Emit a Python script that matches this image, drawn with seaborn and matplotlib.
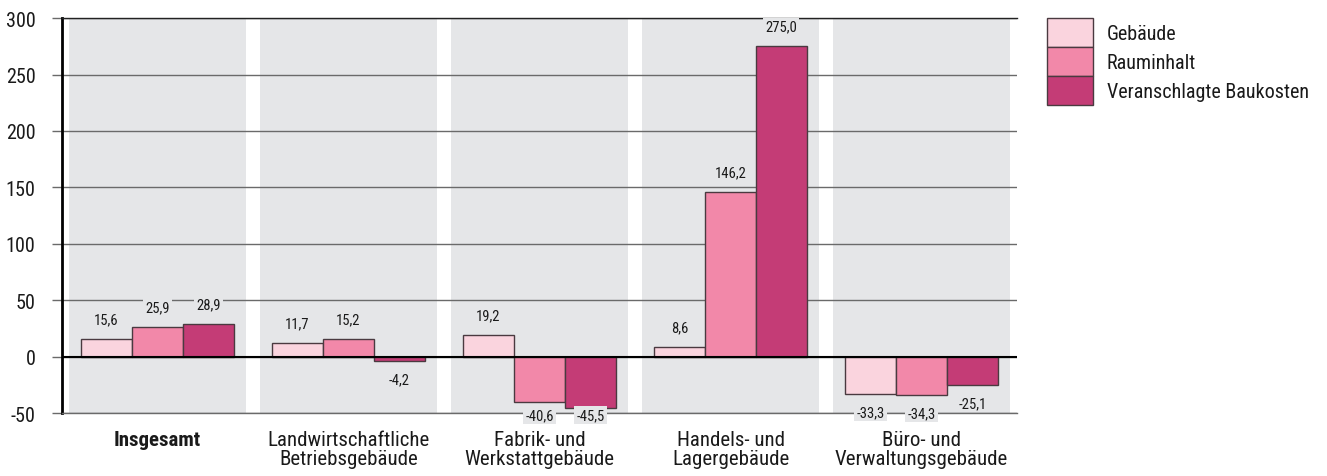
import pandas as pd
import seaborn as sns
import matplotlib.pyplot as plt
from matplotlib import font_manager
from matplotlib.patches import Patch

# data
kategorien = ['Insgesamt', 'Landwirtschaftliche\nBetriebsgebäude', 'Fabrik- und\nWerkstattgebäude',
              'Handels- und\nLagergebäude', 'Büro- und\nVerwaltungsgebäude']
serien = ['Gebäude', 'Rauminhalt', 'Veranschlagte Baukosten']
gebaeude = [15.6, 11.7, 19.2, 8.6, -33.3]
rauminhalt = [25.9, 15.2, -40.6, 146.2, -34.3]
baukosten = [28.9, -4.2, -45.5, 275.0, -25.1]

farben = ['#fad4de', '#f288a9', '#c43c76']
panel = '#e5e6e8'
kante = '#4a3a40'
text_c = '#1a1a1a'

df = pd.DataFrame({
    'kategorie': kategorien * 3,
    'serie': [s for s in serien for _ in kategorien],
    'wert': gebaeude + rauminhalt + baukosten,
})

sns.set_style('white')

# look for a narrow font, the original uses a condensed grotesk
namen = {f.name for f in font_manager.fontManager.ttflist}
familie = 'Liberation Sans'
for kandidat in ['Liberation Sans Narrow', 'Roboto Condensed', 'Open Sans Condensed']:
    if kandidat in namen:
        familie = kandidat
        break

plt.rcParams['font.family'] = [familie, 'DejaVu Sans']
plt.rcParams['axes.unicode_minus'] = False

fig = plt.figure(figsize=(13.27, 4.77), dpi=100)
ax = fig.add_axes([0.0467, 0.132, 0.7197, 0.828])

# gray background panel behind each group
for i in range(len(kategorien)):
    ax.axvspan(i - 0.461, i + 0.461, color=panel, zorder=0, lw=0)

sns.barplot(data=df, x='kategorie', y='wert', hue='serie', palette=farben,
            saturation=1, edgecolor=kante, linewidth=1, legend=False, ax=ax, zorder=2)

ax.set_ylim(-50, 300)
ax.set_xlim(-0.5, 4.5)
ax.set_yticks(range(-50, 301, 50))
ax.yaxis.grid(True, color='#6a6a6a', lw=1)
ax.set_axisbelow(True)
ax.axhline(0, color='black', lw=1.5, zorder=4)

ax.spines['right'].set_visible(False)
ax.spines['left'].set_color('black')
ax.spines['left'].set_linewidth(2)
ax.spines['top'].set_color('#222222')
ax.spines['top'].set_linewidth(1)
ax.spines['bottom'].set_color('#6a6a6a')
ax.spines['bottom'].set_linewidth(1)

ax.tick_params(axis='y', length=7, width=1, color='#6a6a6a', pad=12,
               labelsize=14.5, labelcolor=text_c, left=True)
ax.tick_params(axis='x', length=0, pad=12, labelsize=15, labelcolor=text_c)
for t in ax.get_xticklabels():
    t.set_linespacing(1.05)
ax.set_xlabel('')
ax.set_ylabel('')
ax.get_xticklabels()[0].set_fontweight('bold')

# value labels
for cont in ax.containers:
    for bar in cont:
        h = bar.get_height()
        x = bar.get_x() + bar.get_width() / 2
        if h >= 0:
            y = h + 17.5
        else:
            y = max(h - 16, -52)
        ax.text(x, y, f'{h:.1f}'.replace('.', ','), ha='center', va='center',
                fontsize=10.5, color=text_c, zorder=5,
                bbox=dict(facecolor=panel, edgecolor='none', pad=1.5))

handles = [Patch(facecolor=c, edgecolor=kante, lw=1) for c in farben]
ax.legend(handles, serien, loc='upper left', bbox_to_anchor=(1.031, 1.0),
          frameon=False, borderpad=0, borderaxespad=0, labelspacing=0,
          handlelength=2.29, handleheight=1.84, handletextpad=0.7, fontsize=14.5,
          labelcolor=text_c)

fig.savefig('out.png', dpi=100)
